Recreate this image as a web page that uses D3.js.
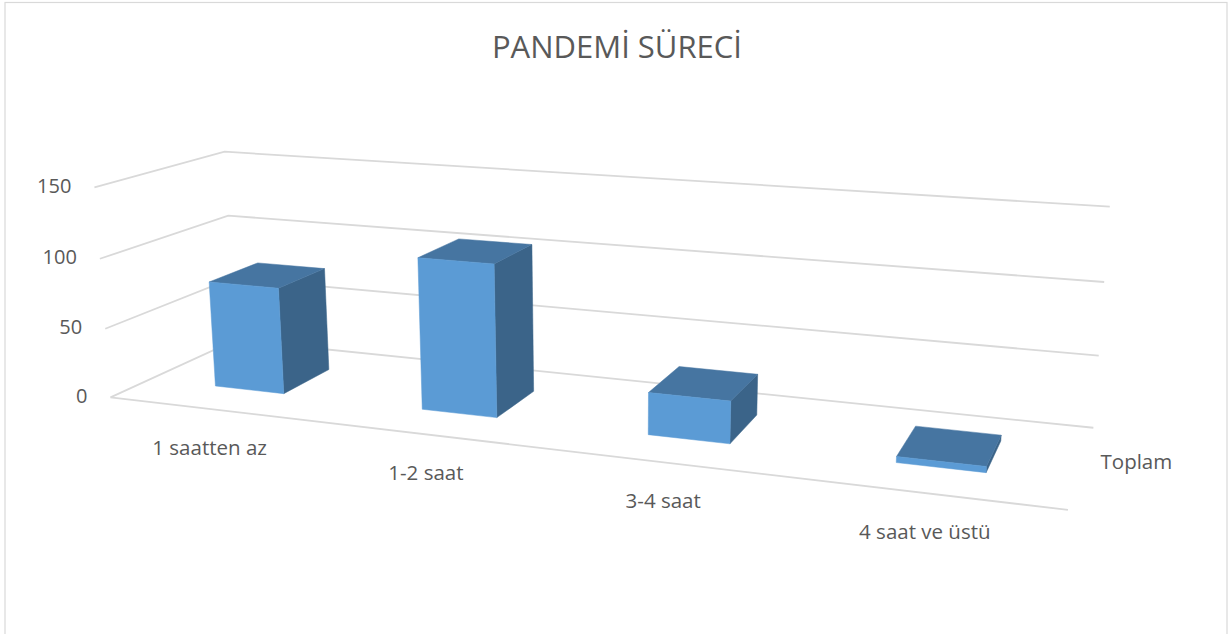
<!DOCTYPE html>
<html>
<head>
<meta charset="utf-8">
<script src="https://cdn.jsdelivr.net/npm/d3@7"></script>
<style>
  html, body { margin: 0; padding: 0; background: #fff; }
  svg text { font-family: "Open Sans", sans-serif; fill: #595959; }
</style>
</head>
<body>
<svg id="chart" width="1229" height="634"></svg>
<script>
// chart data
const title = "PANDEMİ SÜRECİ";
const categories = ["1 saatten az", "1-2 saat", "3-4 saat", "4 saat ve üstü"];
const seriesName = "Toplam";
const values = [77, 107, 29, 4];
const yTicks = [0, 50, 100, 150];

const W = 1229, H = 634;
const svg = d3.select("#chart");

// view calibration: corners of the 3d plot box (world x,y,z in 0..1) -> screen
// x = category axis, y = value axis, z = depth (0 front, 1 back)
const viewAnchors = [
  [[0, 0, 0], [110, 397]], [[1, 0, 0], [1068, 510]],
  [[0, 0, 1], [236, 341]], [[1, 0, 1], [1093, 428]],
  [[0, 1/3, 0], [105, 329]], [[0, 2/3, 0], [100, 258]], [[0, 1, 0], [95, 188]],
  [[0, 1/3, 1], [232, 278]], [[0, 2/3, 1], [228, 215]], [[0, 1, 1], [224, 152]],
  [[1, 1/3, 1], [1099, 355]], [[1, 2/3, 1], [1104, 282]], [[1, 1, 1], [1110, 207]]
];

// solve 3x4 camera matrix (p34 = 1) by least squares
function solveCamera(pairs) {
  const A = [], b = [];
  pairs.forEach(([[X, Y, Z], [u, v]]) => {
    A.push([X, Y, Z, 1, 0, 0, 0, 0, -u*X, -u*Y, -u*Z]); b.push(u);
    A.push([0, 0, 0, 0, X, Y, Z, 1, -v*X, -v*Y, -v*Z]); b.push(v);
  });
  const n = 11;
  const M = d3.range(n).map(i => d3.range(n + 1).map(j => {
    let s = 0;
    for (let k = 0; k < A.length; k++) s += A[k][i] * (j < n ? A[k][j] : b[k]);
    return s;
  }));
  for (let c = 0; c < n; c++) {
    let piv = c;
    for (let r = c + 1; r < n; r++) if (Math.abs(M[r][c]) > Math.abs(M[piv][c])) piv = r;
    [M[c], M[piv]] = [M[piv], M[c]];
    for (let r = 0; r < n; r++) {
      if (r === c) continue;
      const f = M[r][c] / M[c][c];
      for (let j = c; j <= n; j++) M[r][j] -= f * M[c][j];
    }
  }
  return M.map((row, i) => row[n] / row[i]);
}
const p = solveCamera(viewAnchors);
function project(X, Y, Z) {
  const w = p[8]*X + p[9]*Y + p[10]*Z + 1;
  return [(p[0]*X + p[1]*Y + p[2]*Z + p[3]) / w,
          (p[4]*X + p[5]*Y + p[6]*Z + p[7]) / w];
}

// scales in world units
const x = d3.scaleBand().domain(categories).range([0, 1])
  .paddingInner(0.66).paddingOuter(0.33);
const y = d3.scaleLinear().domain([0, 150]).range([0, 1]);
const zFront = 0.3, zBack = 0.7;

const line = d3.line();

// chart border
svg.append("rect")
  .attr("x", 5).attr("y", 2.5)
  .attr("width", 1222).attr("height", 700)
  .attr("fill", "none").attr("stroke", "#d9d9d9").attr("stroke-width", 1.2);

// title
svg.append("text")
  .attr("x", 617).attr("y", 58)
  .attr("text-anchor", "middle")
  .style("font-size", "31px")
  .text(title);

// gridlines on side and back walls
const grid = svg.append("g").attr("fill", "none")
  .attr("stroke", "#d9d9d9").attr("stroke-width", 1.8);
yTicks.forEach(t => {
  grid.append("path").attr("d", line([
    project(0, y(t), 0), project(0, y(t), 1), project(1, y(t), 1)
  ]));
});
// floor front edge
grid.append("path").attr("d", line([project(0, 0, 0), project(1, 0, 0)]));

// value axis labels
svg.append("g").selectAll("text")
  .data(yTicks).join("text")
  .attr("x", d => project(0, y(d), 0)[0] - 23)
  .attr("y", d => project(0, y(d), 0)[1])
  .attr("text-anchor", "end")
  .attr("dominant-baseline", "middle")
  .style("font-size", "20px")
  .text(d => d);

// bars
const bars = svg.append("g").selectAll("g")
  .data(categories.map((c, i) => ({ c, v: values[i] })))
  .join("g");

bars.each(function(d) {
  const g = d3.select(this);
  const x0 = x(d.c), x1 = x(d.c) + x.bandwidth(), h = y(d.v);
  const side = [[x1, 0, zFront], [x1, 0, zBack], [x1, h, zBack], [x1, h, zFront]];
  const top = [[x0, h, zFront], [x1, h, zFront], [x1, h, zBack], [x0, h, zBack]];
  const front = [[x0, 0, zFront], [x1, 0, zFront], [x1, h, zFront], [x0, h, zFront]];
  [[side, "#3b6489"], [top, "#4675a1"], [front, "#5b9bd5"]].forEach(([pts, col]) => {
    g.append("path")
      .attr("d", line(pts.map(q => project(...q))) + "Z")
      .attr("fill", col)
      .attr("stroke", col).attr("stroke-width", 0.5);
  });
});

// category labels
svg.append("g").selectAll("text")
  .data(categories).join("text")
  .attr("x", d => project(x(d) + x.bandwidth() / 2, 0, 0)[0] - 2)
  .attr("y", d => project(x(d) + x.bandwidth() / 2, 0, 0)[1] + 40)
  .attr("text-anchor", "middle")
  .attr("dominant-baseline", "middle")
  .style("font-size", "20.5px")
  .text(d => d);

// series (depth) axis label
const sp = project(1, 0, 0.5);
svg.append("text")
  .attr("x", sp[0] + 19).attr("y", sp[1] - 2)
  .attr("dominant-baseline", "middle")
  .style("font-size", "20.5px")
  .text(seriesName);
</script>
</body>
</html>
